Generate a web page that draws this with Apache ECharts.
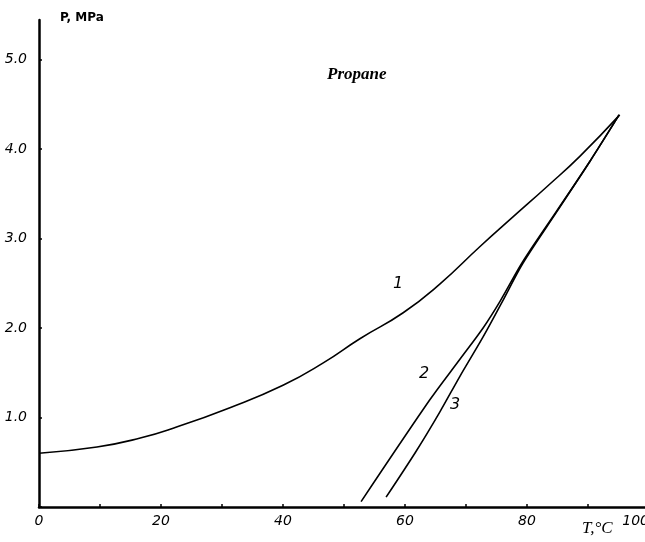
<!DOCTYPE html>
<html>
<head>
<meta charset="utf-8">
<script src="https://cdn.jsdelivr.net/npm/echarts@6/dist/echarts.min.js"></script>
<style>
html,body{margin:0;padding:0;background:#fff;}
#chart{width:645px;height:542px;}
</style>
</head>
<body>
<div id="chart"></div>
<script>
// Curve 1 (T, °C ; P, MPa)
const curve1T = [0, 9.5, 16.6, 22.0, 31.3, 40.0, 46.6, 52.6, 59.7, 65.7, 72.3, 77.7, 83.3, 88.7, 95.2];
const curve1P = [0.60, 0.67, 0.77, 0.88, 1.11, 1.36, 1.61, 1.88, 2.17, 2.49, 2.91, 3.24, 3.58, 3.92, 4.38];
// Curve 2
const curve2T = [52.8, 64.1, 69.0, 72.8, 75.6, 79.3, 84.9, 90.3, 95.1];
const curve2P = [0.06, 1.20, 1.65, 2.00, 2.30, 2.74, 3.31, 3.86, 4.38];
// Curve 3
const curve3T = [56.9, 61.8, 65.7, 69.0, 72.8, 76.0, 79.3, 84.9, 90.3, 95.1];
const curve3P = [0.11, 0.62, 1.06, 1.46, 1.90, 2.30, 2.72, 3.30, 3.86, 4.38];

const xTicks = [0, 20, 40, 60, 80, 100];
const yTicks = [1.0, 2.0, 3.0, 4.0, 5.0];

const curveLabels = ['1', '2', '3'];
const titleText = 'Propane';
const xName = 'T,°C';
const yName = 'P, MPa';

function zip(a, b) { return a.map((v, i) => [v, b[i]]); }

const chart = echarts.init(document.getElementById('chart'), null, {renderer: 'canvas'});

const lineStyle = {color: '#000', width: 1.6};
const tickFont = {color: '#000', fontFamily: 'DejaVu Sans', fontStyle: 'italic', fontSize: 14};

chart.setOption({
  backgroundColor: '#fff',
  animation: false,
  grid: {left: 39, right: -4, top: 20, bottom: 35, containLabel: false, outerBoundsMode: 'none'},
  xAxis: {
    type: 'value', min: 0, max: 100, interval: 10,
    axisLine: {show: true, onZero: false, lineStyle: {color: '#000', width: 2.5}},
    axisTick: {show: true, inside: true, length: 3, lineStyle: {color: '#000', width: 1.5}},
    splitLine: {show: false},
    axisLabel: Object.assign({}, tickFont, {
      margin: 7,
      showMaxLabel: true,
      alignMaxLabel: 'right',
      hideOverlap: false,
      formatter: v => xTicks.indexOf(v) >= 0 ? String(v) : ''
    })
  },
  yAxis: {
    type: 'value', min: 0, max: 5.44, interval: 1,
    axisLine: {show: true, onZero: false, lineStyle: {color: '#000', width: 2.5}},
    axisTick: {show: true, inside: true, length: 3, lineStyle: {color: '#000', width: 1.5}},
    splitLine: {show: false},
    axisLabel: Object.assign({}, tickFont, {
      margin: 12,
      showMaxLabel: false,
      padding: [0, 0, 10, 0],
      formatter: v => {
        const t = yTicks.find(y => Math.abs(y - v) < 1e-6);
        return t !== undefined ? t.toFixed(1) : '';
      }
    })
  },
  series: [
    {type: 'line', data: zip(curve1T, curve1P), smooth: 0.5, showSymbol: false, lineStyle: lineStyle},
    {type: 'line', data: zip(curve2T, curve2P), smooth: 0.3, showSymbol: false, lineStyle: lineStyle},
    {type: 'line', data: zip(curve3T, curve3P), smooth: 0.3, showSymbol: false, lineStyle: lineStyle}
  ],
  graphic: [
    {type: 'text', left: 327, top: 66, style: {text: titleText, font: 'italic bold 17px "Liberation Serif"', fill: '#000'}},
    {type: 'text', left: 60, top: 12, style: {text: yName, font: 'bold 12px "DejaVu Sans"', fill: '#000'}},
    {type: 'text', left: 582, top: 520, style: {text: xName, font: 'italic 17px "Liberation Serif"', fill: '#000'}},
    {type: 'text', left: 393, top: 276, style: {text: curveLabels[0], font: 'italic 16px "DejaVu Sans"', fill: '#000'}},
    {type: 'text', left: 419, top: 366, style: {text: curveLabels[1], font: 'italic 16px "DejaVu Sans"', fill: '#000'}},
    {type: 'text', left: 450, top: 397, style: {text: curveLabels[2], font: 'italic 16px "DejaVu Sans"', fill: '#000'}}
  ]
});
</script>
</body>
</html>
